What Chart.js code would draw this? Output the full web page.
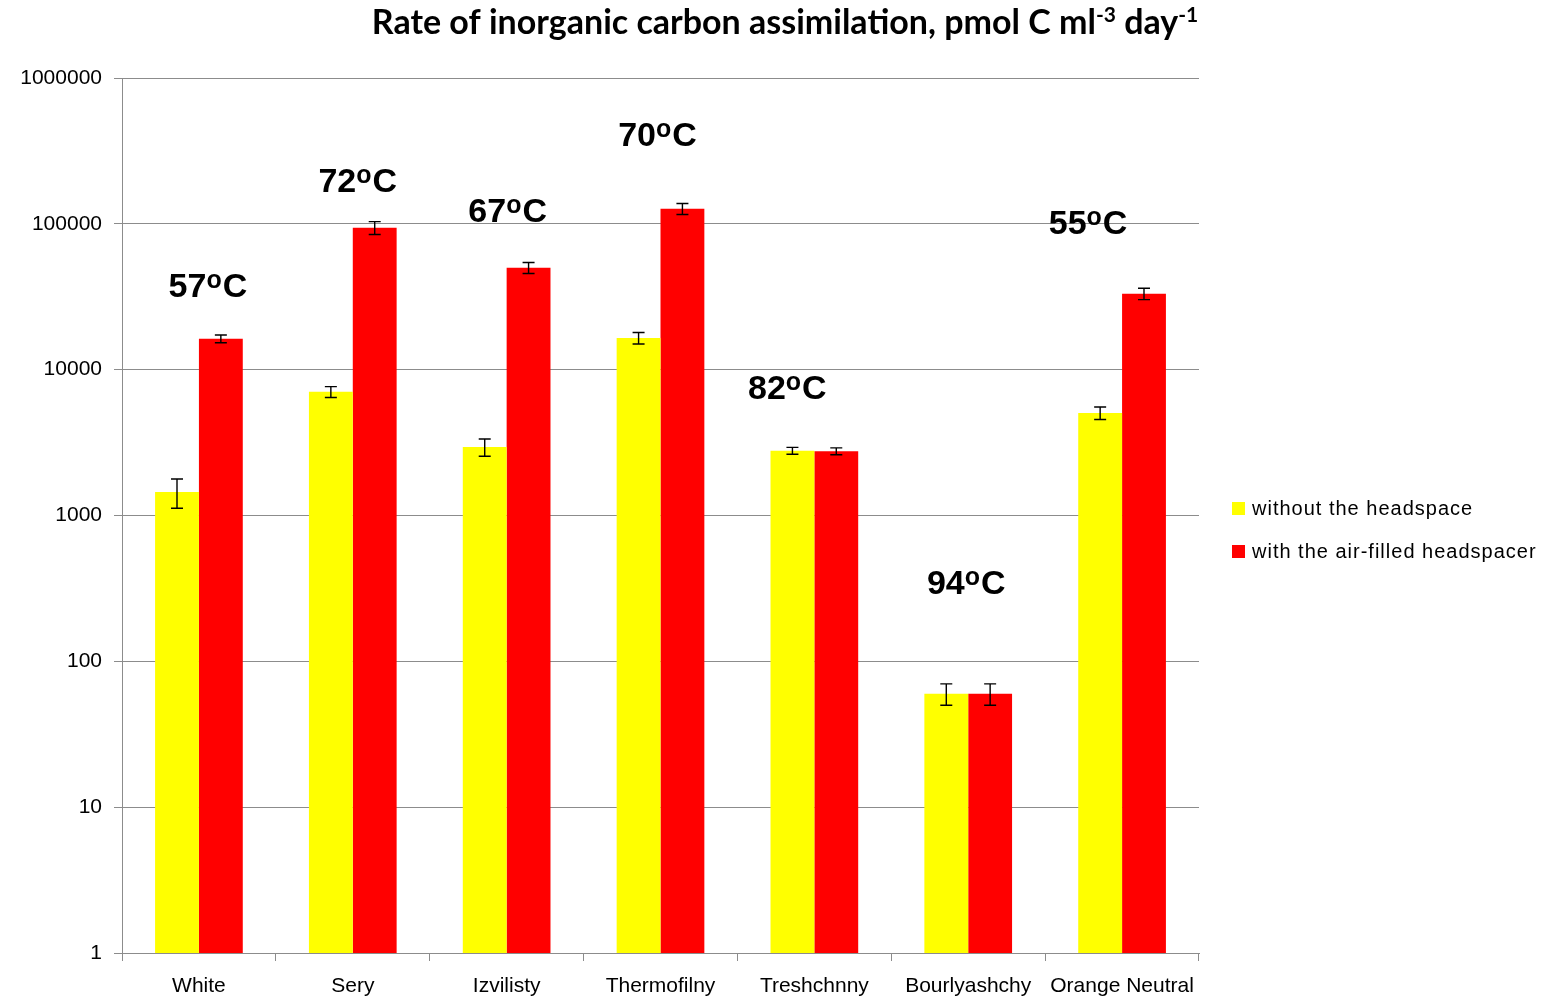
<!DOCTYPE html>
<html>
<head>
<meta charset="utf-8">
<script src="https://cdn.jsdelivr.net/npm/chart.js@4.4.1/dist/chart.umd.min.js"></script>
<style>html,body{margin:0;padding:0;background:#fff}</style>
</head>
<body>
<canvas id="c" width="1544" height="1000"></canvas>
<script>
// data (log scale)
const sites = ['White', 'Sery', 'Izvilisty', 'Thermofilny', 'Treshchnny', 'Bourlyashchy', 'Orange Neutral'];
const withoutHeadspace = [1450, 7050, 2950, 16500, 2780, 60, 5050];
const withoutErr = [330, 600, 400, 1500, 150, 10, 500];
const withHeadspace = [16300, 94000, 50000, 127000, 2760, 60, 33200];
const withErr = [1000, 9500, 4300, 11000, 150, 10, 3000];
const temps = ['57', '72', '67', '70', '82', '94', '55'];
const tempAt = [38000, 200000, 125000, 414000, 7600, 350, 103000];
const yTicks = [1, 10, 100, 1000, 10000, 100000, 1000000];

const GRID = '#8c8c8c';

// error bars on top of each bar
const errorBars = {
  id: 'errorBars',
  afterDatasetsDraw(chart) {
    const { ctx, scales: { y } } = chart;
    ctx.save();
    ctx.strokeStyle = '#000';
    ctx.lineWidth = 1.4;
    chart.data.datasets.forEach((ds, i) => {
      const meta = chart.getDatasetMeta(i);
      meta.data.forEach((bar, j) => {
        const v = ds.data[j], e = ds.errors[j];
        const top = y.getPixelForValue(v + e), bot = y.getPixelForValue(v - e);
        ctx.beginPath();
        ctx.moveTo(bar.x, top); ctx.lineTo(bar.x, bot);
        ctx.moveTo(bar.x - 6, top); ctx.lineTo(bar.x + 6, top);
        ctx.moveTo(bar.x - 6, bot); ctx.lineTo(bar.x + 6, bot);
        ctx.stroke();
      });
    });
    ctx.restore();
  }
};

// temperature labels, title and legend
const extras = {
  id: 'extras',
  afterDraw(chart, args, opts) {
    const { ctx, chartArea, scales: { x, y } } = chart;
    ctx.save();
    ctx.fillStyle = '#000';
    ctx.textBaseline = 'alphabetic';
    ctx.textAlign = 'left';

    // temperature labels
    temps.forEach((t, i) => {
      const cx = x.getPixelForValue(i) + opts.tempShift[i];
      const cy = y.getPixelForValue(tempAt[i]);
      const big = 'bold 34px "Liberation Sans"', small = 'bold 25px "Liberation Sans"';
      ctx.font = big; const w1 = ctx.measureText(t).width, w3 = ctx.measureText('C').width;
      ctx.font = small; const w2 = ctx.measureText('o').width + 1;
      let px = cx - (w1 + w2 + w3) / 2;
      const base = cy + 12;
      ctx.font = big; ctx.fillText(t, px, base); px += w1;
      ctx.font = small; ctx.fillText('o', px, base - 9); px += w2;
      ctx.font = big; ctx.fillText('C', px, base);
    });

    // title with superscripts
    const parts = [
      { t: 'Rate of inorganic carbon assimilation, pmol C ml', sup: false },
      { t: '-3', sup: true },
      { t: ' day', sup: false },
      { t: '-1', sup: true }
    ];
    const fontFor = p => p.sup ? 'bold 21px Lato' : 'bold 34px Lato';
    let total = 0;
    parts.forEach(p => { ctx.font = fontFor(p); p.w = ctx.measureText(p.t).width; total += p.w; });
    let tx = 785 - total / 2;
    parts.forEach(p => {
      ctx.font = fontFor(p);
      ctx.fillText(p.t, tx, p.sup ? 22 : 34);
      tx += p.w;
    });

    // legend
    ctx.font = '20px "Liberation Sans"';
    ctx.letterSpacing = '1px';
    ctx.textBaseline = 'middle';
    chart.data.datasets.forEach((ds, i) => {
      const ly = 509 + i * 43;
      const lx = chartArea.right + 33;
      ctx.fillStyle = ds.backgroundColor;
      ctx.fillRect(lx, ly - 7, 13, 13);
      ctx.fillStyle = '#000';
      ctx.fillText(ds.label, lx + 20, ly);
    });
    ctx.restore();
  }
};

new Chart(document.getElementById('c'), {
  type: 'bar',
  data: {
    labels: sites,
    datasets: [
      { label: 'without the headspace', data: withoutHeadspace, errors: withoutErr, backgroundColor: '#ffff00' },
      { label: 'with the air-filled headspacer', data: withHeadspace, errors: withErr, backgroundColor: '#ff0000' }
    ]
  },
  options: {
    responsive: false,
    animation: false,
    layout: { padding: { top: 78, right: 345, bottom: 0, left: 0 } },
    datasets: { bar: { barPercentage: 1, categoryPercentage: 0.57, borderWidth: 0 } },
    plugins: {
      legend: { display: false },
      title: { display: false },
      tooltip: { enabled: false },
      extras: { tempShift: [9, 5, 1, -3, -27, -2, -34] }
    },
    scales: {
      x: {
        grid: { drawOnChartArea: false, drawTicks: true, tickLength: 8, color: GRID, offset: true },
        border: { color: GRID },
        ticks: { color: '#000', font: { family: 'Liberation Sans', size: 21 }, padding: 13, maxRotation: 0, autoSkip: false },
        afterFit: s => { s.height = 47; }
      },
      y: {
        type: 'logarithmic',
        min: 1,
        max: 1000000,
        afterBuildTicks: s => { s.ticks = yTicks.map(v => ({ value: v })); },
        grid: { color: GRID, tickLength: 8 },
        border: { color: GRID },
        ticks: { color: '#000', font: { family: 'Liberation Sans', size: 21 }, padding: 12, callback: v => String(v) },
        afterFit: s => { s.width = 122; }
      }
    }
  },
  plugins: [errorBars, extras]
});
</script>
</body>
</html>
